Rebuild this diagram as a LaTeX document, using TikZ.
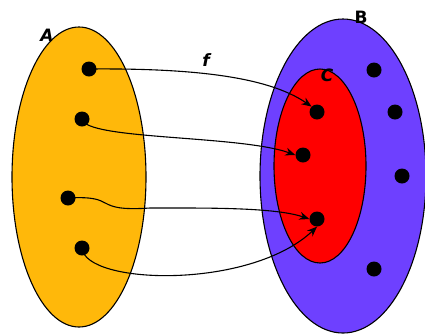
\documentclass[tikz,border=0pt]{standalone}
\usepackage{fontspec}
\setmainfont{DejaVu Sans}
\usetikzlibrary{arrows.meta,shapes.geometric}
\definecolor{setA}{HTML}{FFB80A}
\definecolor{setB}{HTML}{6E40FF}
\definecolor{setC}{HTML}{FF0000}
\tikzset{
  dot/.style={circle,fill=black,inner sep=0pt,minimum size=15pt},
  setline/.style={draw=black,line width=1.1pt,ellipse,inner sep=0pt},
  maparrow/.style={line width=1.1pt,-{Stealth[length=10pt,width=8pt]}},
  lbl/.style={font=\fontsize{17}{17}\selectfont\bfseries\itshape}
}
\begin{document}
\begin{tikzpicture}[x=1pt,y=-1pt]
\useasboundingbox (0,0) rectangle (425,333);
\fill[white] (0,0) rectangle (425,333);
% sets
\node[setline,fill=setA,minimum width=134pt,minimum height=300pt] (A) at (79,177) {};
\node[setline,fill=setB,minimum width=166pt,minimum height=314pt] (B) at (343,176) {};
\node[setline,fill=setC,minimum width=92pt,minimum height=194pt] (C) at (320,166) {};
% labels
\node[lbl] (la) at (47,35) {A};
\node[lbl,font=\fontsize{17}{17}\selectfont\bfseries] (lb) at (361,17) {B};
\node[lbl] (lc) at (327,75) {C};
\node[lbl] (lf) at (206,60) {f};
% dots in A
\node[dot] (a1) at (89,69) {};
\node[dot] (a2) at (82,119) {};
\node[dot] (a3) at (68,198) {};
\node[dot] (a4) at (82,248) {};
% dots in C
\node[dot] (c1) at (317,112) {};
\node[dot] (c2) at (303,155) {};
\node[dot] (c3) at (317,219) {};
% other dots in B
\node[dot] (b1) at (374,70) {};
\node[dot] (b2) at (395,112) {};
\node[dot] (b3) at (402,176) {};
\node[dot] (b4) at (374,269) {};
% arrows
\draw[maparrow] (a1.center) .. controls (200,68) and (270,78) .. (c1.north west);
\draw[maparrow] (a2.center) .. controls (85,140) and (240,135) .. (c2.west);
\draw[maparrow] (a3.center) .. controls (120,195) and (90,212) .. (150,208) -- (180,208) .. controls (230,208) and (280,209) .. (c3.west);
\draw[maparrow] (a4.center) .. controls (85,285) and (250,290) .. (c3.south);
\end{tikzpicture}
\end{document}
